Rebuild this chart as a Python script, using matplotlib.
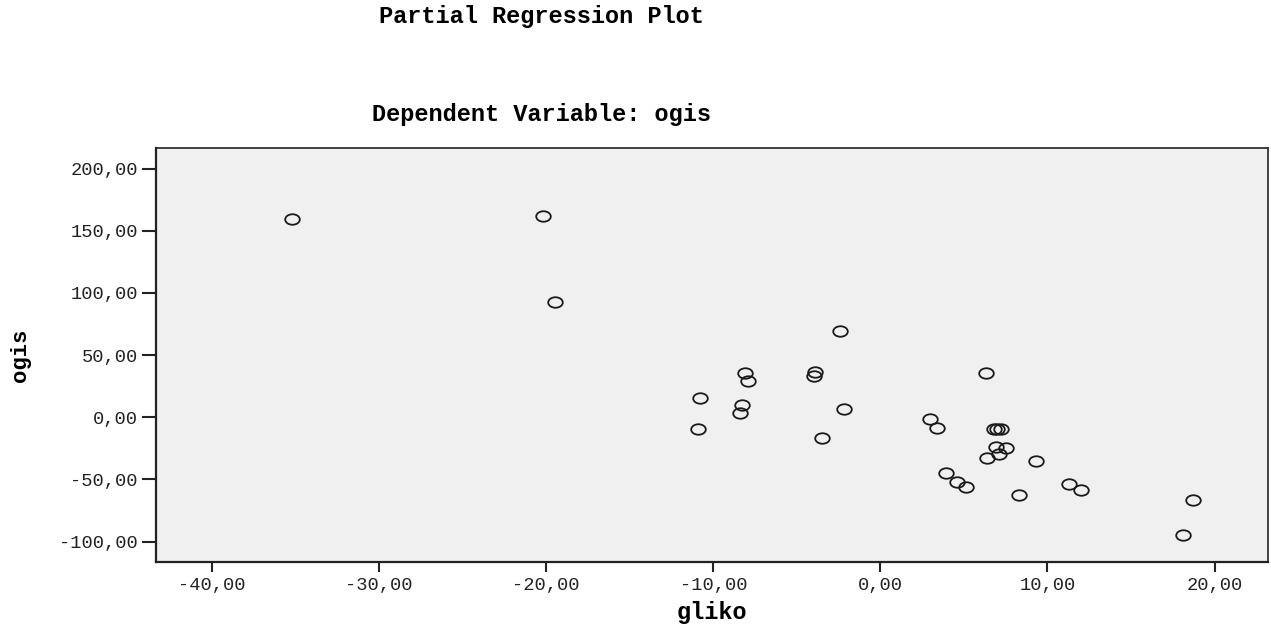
import matplotlib
matplotlib.use("Agg")
import matplotlib.pyplot as plt
from matplotlib.path import Path
from matplotlib.ticker import FixedLocator, FuncFormatter
import numpy as np

# Data
gliko = [-35.2, -20.2, -19.5, -2.4, -8.1, -7.9, -10.8, -8.3, -8.4, -10.9,
         -3.9, -4.0, -2.2, -3.5, 6.3, 3.0, 3.4, 6.8, 7.0, 7.2,
         6.9, 7.5, 7.1, 6.4, 9.3, 3.9, 4.6, 5.1, 8.3, 11.3,
         12.0, 18.7, 18.1]
ogis = [159.3, 162.2, 92.8, 69.5, 35.4, 29.0, 15.8, 9.6, 3.2, -9.2,
        36.7, 33.5, 6.7, -16.9, 35.9, -1.6, -8.3, -9.7, -9.7, -9.7,
        -23.6, -24.4, -29.8, -33.0, -35.2, -44.5, -51.8, -56.3, -62.8, -53.7,
        -58.8, -66.8, -94.4]

x_ticks = [-40, -30, -20, -10, 0, 10, 20]
y_ticks = [-100, -50, 0, 50, 100, 150, 200]

title_text = "Partial Regression Plot"
subtitle_text = "Dependent Variable: ogis"
x_label = "gliko"
y_label = "ogis"

W, H = 1271, 628
fig = plt.figure(figsize=(W / 100, H / 100), dpi=100)
fig.patch.set_facecolor("white")

ax = fig.add_axes([156 / W, (H - 562) / H, (1268 - 156) / W, (562 - 148) / H])
ax.set_facecolor("#F0F0F0")

# elliptical open marker (reference is horizontally stretched)
circ = Path.unit_circle()
ell = Path(circ.vertices * np.array([1.0, 0.72]), circ.codes)

ax.plot(gliko, ogis, linestyle="none", marker=ell, markersize=10.5,
        markerfacecolor="none", markeredgecolor="#1a1a1a", markeredgewidth=1.3)

ax.set_xlim(-43.35, 23.2)
ax.set_ylim(-116.4, 216.6)

fmt = FuncFormatter(lambda v, p: ("%.2f" % v).replace(".", ","))
ax.xaxis.set_major_locator(FixedLocator(x_ticks))
ax.yaxis.set_major_locator(FixedLocator(y_ticks))
ax.xaxis.set_major_formatter(fmt)
ax.yaxis.set_major_formatter(fmt)

mono = "Liberation Mono"
ax.tick_params(axis="x", direction="out", length=7.5, width=1.5, pad=3,
               labelsize=13.5, colors="#222222")
ax.tick_params(axis="y", direction="out", length=10, width=1.5, pad=3,
               labelsize=13.5, colors="#222222")
for lab in ax.get_xticklabels() + ax.get_yticklabels():
    lab.set_fontfamily(mono)

for side, sp in ax.spines.items():
    sp.set_color("#222222")
    sp.set_linewidth(1.6 if side in ("left", "bottom") else 1.2)

ax.set_xlabel(x_label, fontfamily=mono, fontweight="bold", fontsize=17)
ax.xaxis.set_label_coords(0.5, (562 - 613) / 414)
ax.xaxis.label.set_va("center")
ax.set_ylabel(y_label, fontfamily=mono, fontweight="bold", fontsize=16)
ax.yaxis.set_label_coords((20 - 156) / 1112, 0.5)
ax.yaxis.label.set_va("center")
ax.yaxis.label.set_ha("center")

fig.text(541 / W, (H - 17) / H, title_text, fontfamily=mono, fontweight="bold",
         fontsize=17, ha="center", va="center")
fig.text(541 / W, (H - 115) / H, subtitle_text, fontfamily=mono, fontweight="bold",
         fontsize=17, ha="center", va="center")

fig.savefig("out.png", dpi=100)
